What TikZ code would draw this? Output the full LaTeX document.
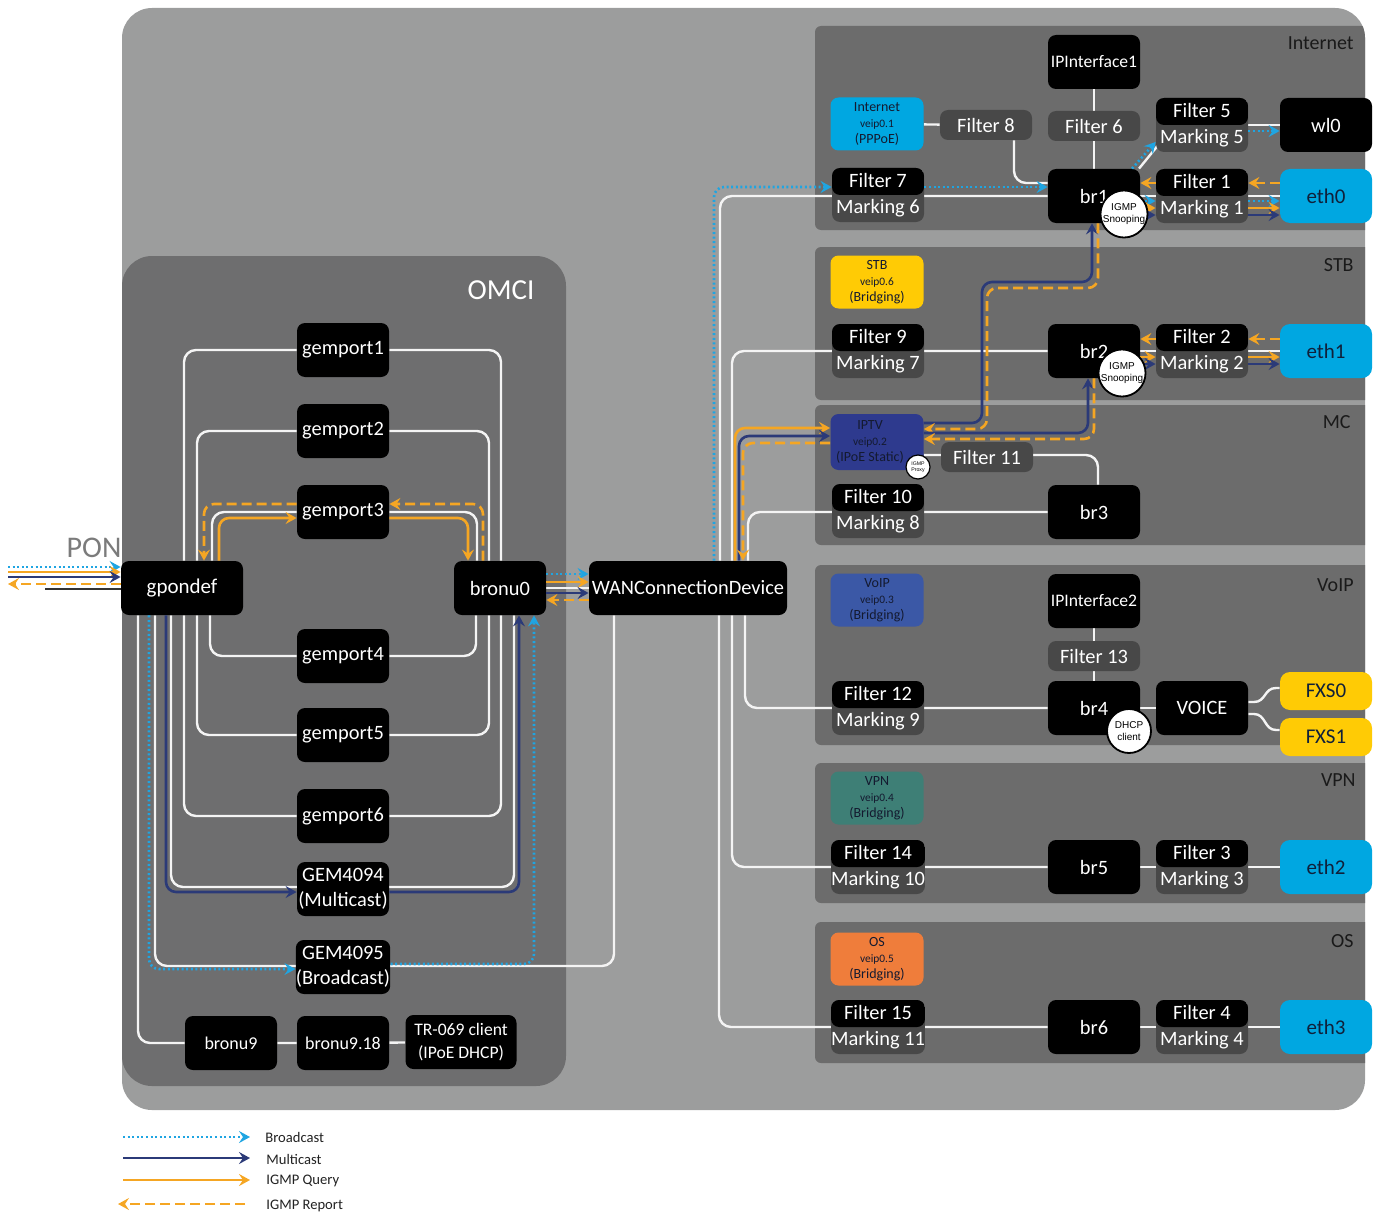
\documentclass[tikz,border=0pt]{standalone}
\usepackage{fontspec}
\setmainfont{Carlito}
\newfontfamily\arialf{Liberation Sans}
\usetikzlibrary{arrows.meta,calc}
\definecolor{outerbg}{HTML}{9C9D9D}
\definecolor{omcibg}{HTML}{6E6E6F}
\definecolor{panelbg}{HTML}{6C6C6C}
\definecolor{fgray}{HTML}{484848}
\definecolor{ethblue}{HTML}{00A7E1}
\definecolor{ethtext}{HTML}{10203A}
\definecolor{yel}{HTML}{FFCB05}
\definecolor{iptvc}{HTML}{2E3A8E}
\definecolor{voipc}{HTML}{3B58A6}
\definecolor{vpnc}{HTML}{3E7F76}
\definecolor{osc}{HTML}{EF7D3B}
\definecolor{vtext}{HTML}{141A30}
\definecolor{bcast}{HTML}{1FA5E2}
\definecolor{mcast}{HTML}{2B3A78}
\definecolor{igmp}{HTML}{F5A623}
\definecolor{linew}{HTML}{F4F4F4}
\definecolor{sectc}{HTML}{1A1A1A}
\definecolor{legc}{HTML}{222222}
\definecolor{ponc}{HTML}{7B7B7B}
\definecolor{darkln}{HTML}{333333}
\pgfdeclarelayer{back}\pgfdeclarelayer{lines}\pgfdeclarelayer{front}
\pgfsetlayers{back,lines,main,front}
\newcommand\fsz[2]{\fontsize{#1}{#2}\selectfont}
\tikzset{
 box/.style={rounded corners=4pt, minimum width=46pt, minimum height=27pt, inner sep=0pt, align=center, text=white, font=\fsz{10.2}{12.5}},
 blk/.style={box, fill=black},
 flt/.style={box, fill=fgray, minimum height=15pt},
 fm/.style={box, fill=fgray, font=\fsz{10.2}{13}, path picture={\fill[black] (path picture bounding box.north west) rectangle (path picture bounding box.east);}},
 eth/.style={box, fill=ethblue, text=ethtext, rounded corners=5pt, font=\fsz{10.5}{12}},
 fxs/.style={eth, fill=yel, minimum height=19pt},
 veip/.style={rounded corners=4pt, minimum width=46.5pt, minimum height=26.5pt, inner sep=0pt, align=center, text=vtext, font=\fsz{7}{8}},
 circ/.style={circle, draw=black, line width=0.9pt, fill=white, minimum size=22pt, inner sep=0pt, align=center, font=\arialf\fsz{5}{6}},
 sect/.style={anchor=east, text=sectc, font=\fsz{10}{12}, inner sep=0pt},
 leg/.style={anchor=west, text=legc, font=\fsz{7.3}{9}, inner sep=0pt},
 wl/.style={draw=linew, line width=1.2pt, rounded corners=6pt},
 tip/.style={-{Stealth[length=5.5pt,width=6pt,inset=2pt]}},
 bc/.style={draw=bcast, line width=1.3pt, dash pattern=on 1pt off 1.3pt, rounded corners=5pt, tip},
 mc/.style={draw=mcast, line width=1.3pt, rounded corners=5pt, tip},
 iq/.style={draw=igmp, line width=1.3pt, rounded corners=5pt, tip},
 ir/.style={draw=igmp, line width=1.3pt, dash pattern=on 5pt off 2.5pt, rounded corners=5pt, tip},
}
\newcommand\vp[1]{{\fsz{5.7}{8}#1}}
\begin{document}
\begin{tikzpicture}[x=0.5pt,y=-0.5pt]
\useasboundingbox (0,0) rectangle (1379,1214);
% ---------- backgrounds
\begin{pgfonlayer}{back}
\fill[outerbg, rounded corners=15pt] (122,8) rectangle (1365,1110);
\begin{scope}
\clip[rounded corners=15pt] (122,8) rectangle (1365,1110);
\fill[omcibg, rounded corners=15pt] (122,256) rectangle (566,1086);
\fill[panelbg, rounded corners=3pt] (815,26) rectangle (1375,230);
\fill[panelbg, rounded corners=3pt] (815,247) rectangle (1375,400);
\fill[panelbg, rounded corners=3pt] (815,405) rectangle (1375,545);
\fill[panelbg, rounded corners=3pt] (815,565) rectangle (1375,745);
\fill[panelbg, rounded corners=3pt] (815,763) rectangle (1375,903);
\fill[panelbg, rounded corners=3pt] (815,922) rectangle (1375,1063);
\end{scope}
\end{pgfonlayer}
% ---------- labels
\node[sect] (lInet) at (1354,43) {Internet};
\node[sect] (lStb) at (1354,265) {STB};
\node[sect] (lMc) at (1351,422) {MC};
\node[sect] (lVoip) at (1354,585) {VoIP};
\node[sect] (lVpn) at (1356,780) {VPN};
\node[sect] (lOs) at (1354,941) {OS};
\node[text=white, font=\fsz{14.5}{16}, inner sep=0pt] (omci) at (501,290) {OMCI};
\node[text=ponc, font=\fsz{15}{16}, inner sep=0pt] (pon) at (94,548) {PON};
% ---------- Internet
\node[blk, font=\fsz{8.8}{10}] (ipif1) at (1094,62) {IPInterface1};
\node[veip, fill=ethblue] (inet) at (877,124) {Internet\\\vp{veip0.1}\\(PPPoE)};
\node[flt] (f8) at (986,125) {Filter 8};
\node[flt] (f6) at (1094,126) {Filter 6};
\node[fm] (f5) at (1202,125) {Filter 5\\Marking 5};
\node[blk] (wl0) at (1326,125) {wl0};
\node[fm] (f7) at (878,195) {Filter 7\\Marking 6};
\node[blk] (br1) at (1094,196) {br1};
\node[fm] (f1) at (1202,196) {Filter 1\\Marking 1};
\node[eth] (eth0) at (1326,196) {eth0};
% ---------- STB
\node[veip, fill=yel] (stb) at (877,282) {STB\\\vp{veip0.6}\\(Bridging)};
\node[fm] (f9) at (878,351) {Filter 9\\Marking 7};
\node[blk] (br2) at (1094,351) {br2};
\node[fm] (f2) at (1202,351) {Filter 2\\Marking 2};
\node[eth] (eth1) at (1326,351) {eth1};
% ---------- MC
\node[veip, fill=iptvc, minimum height=28pt] (iptv) at (877,442) {};
\node[veip, text=vtext] (iptvt) at (870,442) {IPTV\\\vp{veip0.2}\\(IPoE Static)};
\node[flt] (f11) at (987,457) {Filter 11};
\node[fm] (f10) at (878,511) {Filter 10\\Marking 8};
\node[blk] (br3) at (1094,512) {br3};
% ---------- VoIP
\node[veip, fill=voipc] (voipv) at (877,600) {VoIP\\\vp{veip0.3}\\(Bridging)};
\node[blk, font=\fsz{8.8}{10}] (ipif2) at (1094,601) {IPInterface2};
\node[flt] (f13) at (1094,656) {Filter 13};
\node[fm] (f12) at (878,708) {Filter 12\\Marking 9};
\node[blk] (br4) at (1094,708) {br4};
\node[blk] (voice) at (1202,708) {VOICE};
\node[fxs] (fxs0) at (1326,691) {FXS0};
\node[fxs] (fxs1) at (1326,737) {FXS1};
% ---------- VPN
\node[veip, fill=vpnc] (vpnv) at (877,798) {VPN\\\vp{veip0.4}\\(Bridging)};
\node[fm] (f14) at (878,867) {Filter 14\\Marking 10};
\node[blk] (br5) at (1094,867) {br5};
\node[fm] (f3) at (1202,867) {Filter 3\\Marking 3};
\node[eth] (eth2) at (1326,867) {eth2};
% ---------- OS
\node[veip, fill=osc] (osv) at (877,959) {OS\\\vp{veip0.5}\\(Bridging)};
\node[fm] (f15) at (878,1027) {Filter 15\\Marking 11};
\node[blk] (br6) at (1094,1027) {br6};
\node[fm] (f4) at (1202,1027) {Filter 4\\Marking 4};
\node[eth] (eth3) at (1326,1027) {eth3};
% ---------- middle / OMCI
\node[blk, minimum width=99pt] (wan) at (688,588) {WANConnectionDevice};
\node[blk] (bronu0) at (500,588) {bronu0};
\node[blk, minimum width=61pt, font=\fsz{10.5}{12}] (gpon) at (182,588) {gpondef};
\node[blk] (gemport1) at (343,350) {gemport1};
\node[blk] (gemport2) at (343,431) {gemport2};
\node[blk] (gemport3) at (343,512) {gemport3};
\node[blk] (gemport4) at (343,656) {gemport4};
\node[blk] (gemport5) at (343,735) {gemport5};
\node[blk] (gemport6) at (343,816) {gemport6};
\node[blk] (gem4094) at (343,889) {GEM4094\\(Multicast)};
\node[blk] (gem4095) at (343,967) {GEM4095\\(Broadcast)};
\node[blk, font=\fsz{9}{11}] (bronu9) at (231,1043) {bronu9};
\node[blk, font=\fsz{9}{11}] (bronu918) at (343,1043) {bronu9.18};
\node[blk, minimum width=55.5pt, font=\fsz{8.8}{11.5}] (tr069) at (461,1042) {TR-069 client\\(IPoE DHCP)};
% ---------- circles
\begin{pgfonlayer}{front}
\node[circ] (snoop1) at (1124,214) {IGMP\\Snooping};
\node[circ] (snoop2) at (1122,373) {IGMP\\Snooping};
\node[circ] (dhcp) at (1129,731) {DHCP\\client};
\node[circ, minimum size=12pt, line width=0.6pt, font=\arialf\fsz{2.6}{3}] (proxy) at (918,467) {IGMP\\Proxy};
\end{pgfonlayer}
% ---------- white connectors
\begin{pgfonlayer}{lines}
\draw[wl] (184,0 |- gpon.north) |- (gemport1) -| (501,0 |- bronu0.north);
\draw[wl] (197,0 |- gpon.north) |- (gemport2) -| (489,0 |- bronu0.north);
\draw[wl] (212,0 |- gpon.north) |- (gemport3) -| (477,0 |- bronu0.north);
\draw[wl] (210,0 |- gpon.south) |- (gemport4) -| (476,0 |- bronu0.south);
\draw[wl] (197,0 |- gpon.south) |- (gemport5) -| (489,0 |- bronu0.south);
\draw[wl] (184,0 |- gpon.south) |- (gemport6) -| (501,0 |- bronu0.south);
\draw[wl] (171,0 |- gpon.south) |- (gem4094.west |- 0,887) -| (514,0 |- bronu0.south);
\draw[wl] (155,0 |- gpon.south) |- (gem4095.west |- 0,966) -| (614,0 |- wan.south);
\draw[wl] (138,0 |- gpon.south) |- (bronu9);
\draw[wl] (bronu9) -- (bronu918) -- (tr069);
\draw[wl] (bronu0) -- (wan);
\draw[wl] (720,0 |- wan.north) |- (br1);
\draw[wl] (inet) -- (f8);
\draw[wl] (1014,0 |- f8.south) |- (br1.west |- 0,183);
\draw[wl] (ipif1) -- (br1);
\draw[wl] (br1) -- (eth0);
\draw[wl] (f5) -- (wl0);
\coordinate (d5) at (1168,133);
\draw[wl] (1139,0 |- br1.north) -- (d5);
\draw[wl] (732,0 |- wan.north) |- (br2);
\draw[wl] (br2) -- (eth1);
\draw[wl] (iptv.east |- 0,455) -| (1098,0 |- br3.north);
\draw[wl] (748,0 |- wan.north) |- (br3);
\draw[wl] (745,0 |- wan.south) |- (br4);
\draw[wl] (ipif2) -- (br4);
\draw[wl] (br4) -- (voice);
\draw[wl, rounded corners=0pt] (voice.east |- 0,702) -- (1254,702) .. controls (1266,702) and (1264,688) .. (1276,688) -- (fxs0.west |- 0,688);
\draw[wl, rounded corners=0pt] (voice.east |- 0,714) -- (1254,714) .. controls (1266,714) and (1264,730) .. (1276,730) -- (fxs1.west |- 0,730);
\draw[wl] (732,0 |- wan.south) |- (br5);
\draw[wl] (br5) -- (eth2);
\draw[wl] (719,0 |- wan.south) |- (br6);
\draw[wl] (br6) -- (eth3);
\end{pgfonlayer}
% ---------- PON side
\coordinate (ponA) at (8,567);
\coordinate (ponB) at (8,572);
\coordinate (ponC) at (8,577);
\coordinate (ponD) at (8,584);
\coordinate (ponE) at (45,589);
\draw[bc] (ponA) -- (gpon.west |- ponA);
\draw[iq] (ponB) -- (gpon.west |- ponB);
\draw[mc] (ponC) -- (gpon.west |- ponC);
\draw[ir] (gpon.west |- ponD) -- (ponD);
\draw[darkln, line width=1.3pt] (ponE) -- (gpon.west |- ponE);
% ---------- OMCI coloured flows
\draw[iq] (219,0 |- gpon.north) |- (gemport3.west |- 0,518);
\draw[iq] (gemport3.east |- 0,518) -| (468,0 |- bronu0.north);
\draw[ir] (483,0 |- bronu0.north) |- (gemport3.east |- 0,504);
\draw[ir] (gemport3.west |- 0,504) -| (204,0 |- gpon.north);
\draw[mc] (166,0 |- gpon.south) |- (gem4094.west |- 0,892);
\draw[mc] (gem4094.east |- 0,892) -| (519,0 |- bronu0.south);
\draw[bc] (149,0 |- gpon.south) |- (gem4095.west |- 0,969);
\draw[bc] (gem4095.east |- 0,964) -| (534,0 |- bronu0.south);
% ---------- bronu0 -> WAN
\draw[bc] (bronu0.east |- 0,574) -- (wan.west |- 0,574);
\draw[iq] (bronu0.east |- 0,582) -- (wan.west |- 0,582);
\draw[mc] (bronu0.east |- 0,593) -- (wan.west |- 0,593);
\draw[ir] (wan.west |- 0,600) -- (bronu0.east |- 0,600);
% ---------- WAN -> services
\draw[bc] (714,0 |- wan.north) |- (f7.west |- 0,187);
\draw[bc] (f7.east |- 0,187) -- (br1.west |- 0,187);
\draw[iq] (735,0 |- wan.north) |- (iptv.west |- 0,428);
\draw[mc] (739,0 |- wan.north) |- (iptv.west |- 0,436);
\draw[ir] (iptv.west |- 0,443) -| (743,0 |- wan.north);
% ---------- IPTV <-> bridges
\draw[mc] (iptv.east |- 0,423) -| (982,282) -| (1092,0 |- br1.south);
\draw[ir] (1098,0 |- br1.south) |- (987,288) |- (iptv.east |- 0,429);
\draw[mc] (iptv.east |- 0,433) -| (1088,0 |- br2.south);
\draw[ir] (1094,0 |- br2.south) |- (iptv.east |- 0,439);
% ---------- br1 outputs
\draw[bc] (1132,0 |- br1.north) -- (f5.west |- 0,142);
\draw[bc] (f5.east |- 0,131) -- (wl0.west |- 0,131);
\draw[ir] (eth0.west |- 0,183) -- (f1.east |- 0,183);
\draw[ir] (f1.west |- 0,183) -- (br1.east |- 0,183);
\draw[bc] (br1.east |- 0,201) -- (f1.west |- 0,201);
\draw[iq] (br1.east |- 0,208) -- (f1.west |- 0,208);
\draw[mc] (br1.east |- 0,215) -- (f1.west |- 0,215);
\draw[bc] (f1.east |- 0,201) -- (eth0.west |- 0,201);
\draw[iq] (f1.east |- 0,208) -- (eth0.west |- 0,208);
\draw[mc] (f1.east |- 0,215) -- (eth0.west |- 0,215);
% ---------- br2 outputs
\draw[ir] (eth1.west |- 0,339) -- (f2.east |- 0,339);
\draw[ir] (f2.west |- 0,339) -- (br2.east |- 0,339);
\draw[iq] (br2.east |- 0,357) -- (f2.west |- 0,357);
\draw[mc] (br2.east |- 0,364) -- (f2.west |- 0,364);
\draw[iq] (f2.east |- 0,357) -- (eth1.west |- 0,357);
\draw[mc] (f2.east |- 0,364) -- (eth1.west |- 0,364);
% ---------- legend
\coordinate (lg1a) at (123,1137); \coordinate (lg1b) at (250,1137);
\coordinate (lg2a) at (123,1158); \coordinate (lg2b) at (250,1158);
\coordinate (lg3a) at (123,1180); \coordinate (lg3b) at (250,1180);
\coordinate (lg4a) at (245,1204); \coordinate (lg4b) at (118,1204);
\draw[bc] (lg1a) -- (lg1b);
\draw[mc] (lg2a) -- (lg2b);
\draw[iq] (lg3a) -- (lg3b);
\draw[ir] (lg4a) -- (lg4b);
\node[leg] (lt1) at (265,1137) {Broadcast};
\node[leg] (lt2) at (266,1159) {Multicast};
\node[leg] (lt3) at (266,1181) {IGMP Query};
\node[leg] (lt4) at (266,1206) {IGMP Report};
\end{tikzpicture}
\end{document}
